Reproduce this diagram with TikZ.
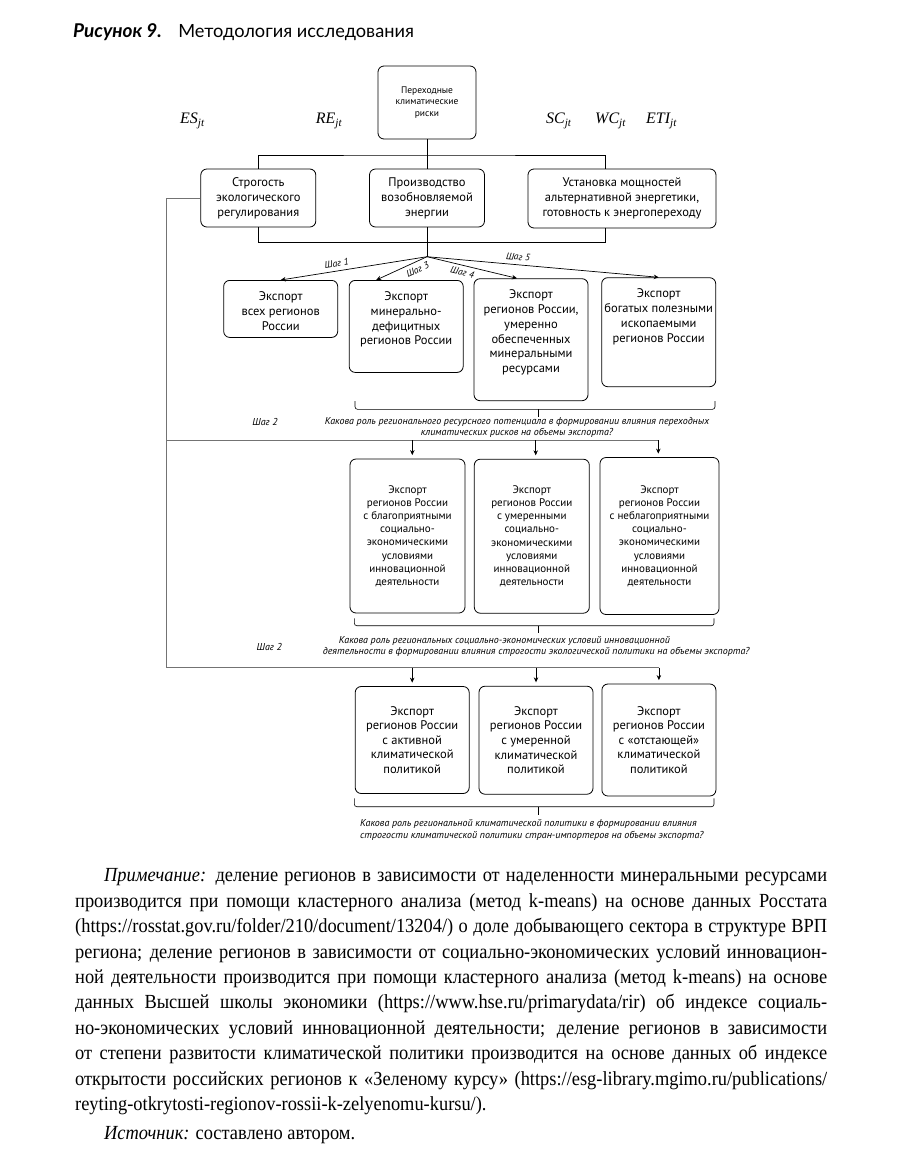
\documentclass[tikz,border=0pt]{standalone}
\usepackage{fontspec}
\setmainfont{Liberation Serif}
\setsansfont{PT Sans}
\newfontfamily\titlefont{Lato}
\newfontfamily\notefont{Liberation Serif}[FakeStretch=0.92]
\usetikzlibrary{positioning,arrows.meta}

% text held at the top of a tall box
\newcommand{\topcell}[2]{\parbox[c][#1][t]{114pt}{\centering\vspace*{10pt}\strut#2}}

\begin{document}
\begin{tikzpicture}[
    x=1pt, y=-1pt,
    box/.style={draw, rounded corners=6pt, line width=0.8pt, align=center, inner sep=0pt, font=\sffamily\fontsize{12.5}{15}\selectfont},
    line/.style={line width=0.7pt},
    rail/.style={draw=black!55, line width=0.9pt},
    arrow/.style={->, >={Stealth[length=5pt,width=4.5pt]}, line width=0.7pt},
    steplbl/.style={font=\sffamily\itshape\fontsize{9.5}{11}\selectfont, inner sep=0pt},
    question/.style={font=\sffamily\itshape\fontsize{10}{11.5}\selectfont, inner sep=0pt},
    var/.style={font=\itshape\fontsize{16}{18}\selectfont, inner sep=0pt, anchor=base west},
    brace/.style={line width=0.6pt, rounded corners=2.5pt}
]
\useasboundingbox (0,0) rectangle (921,1157);

% Title
\node[anchor=base west, inner sep=0pt, font=\titlefont\bfseries\itshape\fontsize{19}{22}\selectfont] (fignum) at (73,37) {Рисунок 9.};
\node[base right=16pt of fignum, inner sep=0pt, font=\titlefont\fontsize{18.2}{22}\selectfont] (figtitle) {Методология исследования};

% Variables
\node[var] (es) at (180,123.5) {ES\textsubscript{jt}};
\node[var] (re) at (315.7,123.5) {RE\textsubscript{jt}};
\node[var] (sc) at (546,123.5) {SC\textsubscript{jt}};
\node[var] (wc) at (595,123.5) {WC\textsubscript{jt}};
\node[var] (eti) at (646,123.5) {ETI\textsubscript{jt}};

% Risks and channels
\node[box, minimum width=98pt, minimum height=73pt, font=\sffamily\fontsize{9.5}{11.5}\selectfont] (trisk) at (427,102.5) {Переходные\\климатические\\риски};
\node[box, minimum width=115pt, minimum height=58pt] (strict) at (258.3,198) {Строгость\\экологического\\регулирования};
\node[box, minimum width=115pt, minimum height=58pt] (renew) at (427,198) {Производство\\возобновляемой\\энергии};
\node[box, minimum width=188pt, minimum height=59pt] (install) at (622,198.5) {Установка мощностей\\альтернативной энергетики,\\готовность к энергопереходу};

% Mineral resource groups
\node[box, anchor=north, font=\sffamily\fontsize{12.5}{14.7}\selectfont] (mall) at (280.7,280) {\topcell{57pt}{Экспорт\\всех регионов\\России}};
\node[box, anchor=north, font=\sffamily\fontsize{12.5}{14.7}\selectfont] (mdef) at (406.2,280) {\topcell{92pt}{Экспорт\\минерально-\\дефицитных\\регионов России}};
\node[box, anchor=north, font=\sffamily\fontsize{12.5}{14.7}\selectfont] (mmod) at (531,278.3) {\topcell{122pt}{Экспорт\\регионов России,\\умеренно\\обеспеченных\\минеральными\\ресурсами}};
\node[box, anchor=north, font=\sffamily\fontsize{12.5}{14.7}\selectfont] (mrich) at (658.7,277.3) {\topcell{109pt}{Экспорт\\богатых полезными\\ископаемыми\\регионов России}};

% Socio-economic groups
\node[box, minimum width=115pt, minimum height=154pt, font=\sffamily\fontsize{11}{13.2}\selectfont] (sfav) at (407.5,536) {Экспорт\\регионов России\\с благоприятными\\социально-\\экономическими\\условиями\\инновационной\\деятельности};
\node[box, minimum width=115pt, minimum height=154pt, font=\sffamily\fontsize{11}{13.2}\selectfont] (smod) at (531.8,536.2) {Экспорт\\регионов России\\с умеренными\\социально-\\экономическими\\условиями\\инновационной\\деятельности};
\node[box, minimum width=119pt, minimum height=157pt, font=\sffamily\fontsize{11}{13.2}\selectfont] (sunf) at (659.5,536) {Экспорт\\регионов России\\с неблагоприятными\\социально-\\экономическими\\условиями\\инновационной\\деятельности};

% Climate policy groups
\node[box, minimum width=114pt, minimum height=107pt, font=\sffamily\fontsize{12.5}{14.6}\selectfont] (cact) at (412.2,740) {Экспорт\\регионов России\\с активной\\климатической\\политикой};
\node[box, minimum width=114pt, minimum height=108pt, font=\sffamily\fontsize{12.5}{14.6}\selectfont] (cmod) at (536,740.2) {Экспорт\\регионов России\\с умеренной\\климатической\\политикой};
\node[box, minimum width=114pt, minimum height=112pt, font=\sffamily\fontsize{12.5}{14.6}\selectfont] (clag) at (658.9,740) {Экспорт\\регионов России\\с «отстающей»\\климатической\\политикой};

% Questions
\node[steplbl, font=\sffamily\itshape\fontsize{10}{12}\selectfont] (s2a) at (265,421.7) {Шаг 2};
\node[question, align=center] (q1) at (517,427.5) {Какова роль регионального ресурсного потенциала в формировании влияния переходных\\климатических рисков на объемы экспорта?};
\node[steplbl, font=\sffamily\itshape\fontsize{10}{12}\selectfont] (s2b) at (269.3,647.3) {Шаг 2};
\node[question, align=left, anchor=west] (q2) at (322.7,646.3) {\hspace*{16pt}Какова роль региональных социально-экономических условий инновационной\\деятельности в формировании влияния строгости экологической политики на объемы экспорта?};
\node[question, align=left, anchor=west] (q3) at (360,830) {Какова роль региональной климатической политики в формировании влияния\\строгости климатической политики стран-импортеров на объемы экспорта?};

% Connectors
\coordinate (fork) at (427,155);
\draw[line] (trisk) -- (fork);
\draw[line] (strict.north) |- (fork) -| ([xshift=-17pt]install.north);
\draw[line] (fork) -- (renew);
\draw[line] (strict.south) -- ++(0,15) -| ([xshift=-17pt]install.south);

\coordinate (hub) at (427,256.7);
\draw[line] (renew) -- (hub);
\draw[arrow] (hub) -- node[steplbl, pos=0.61, sloped, above=4pt] {Шаг 1} (mall.north);
\draw[arrow] (hub) -- node[steplbl, pos=0.25, sloped, below=4pt] {Шаг 3} ([xshift=-30pt]mdef.north);
\draw[arrow] (hub) -- node[steplbl, pos=0.41, sloped, below=3pt] {Шаг 4} ([xshift=-14pt]mmod.north);
\draw[arrow] (hub) -- node[steplbl, pos=0.39, sloped, above=4pt] {Шаг 5} (mrich.north);

% Rail from regulation
\coordinate (railA) at (166.7,440);
\coordinate (railB) at (166.7,667.7);
\draw[rail] (strict.west) -| (railB) -- (railB -| clag.north);
\draw[rail] (railA) -- ([xshift=-1.2pt]railA -| sunf.north);
\foreach \n/\dx in {sfav/4.8, smod/3.9, sunf/-1.2}
    \draw[arrow, shorten >=3.5pt] ([xshift=\dx pt]railA -| \n.north) -- ([xshift=\dx pt]\n.north);
\foreach \n in {cact,cmod,clag}
    \draw[arrow, shorten >=3.5pt] (railB -| \n.north) -- (\n.north);

% Braces
\draw[brace] (355,401) |- (715,409.3) -- (715,401);
\draw[brace] (538.3,409.3) -- (538.3,416.7);
\draw[brace] (354.3,618.3) |- (714,625.7) -- (714,618.3);
\draw[brace] (538.3,625.7) -- (538.3,633.3);
\draw[brace] (354.3,798.3) |- (714,806.7) -- (714,798.3);
\draw[brace] (538.3,806.7) -- (538.3,815);

% Note
\node[anchor=north west, inner sep=0pt, text width=752pt, align=justify, font=\notefont\fontsize{20}{25.4}\selectfont] (note) at (75,864) {\strut\hspace*{29pt}\textit{Примечание:} деление регионов в зависимости от наделенности минеральными ресурсами\linebreak
производится при помощи кластерного анализа (метод k-means) на основе данных Росстата\linebreak
(https://rosstat.gov.ru/folder/210/document/13204/) о доле добывающего сектора в структуре ВРП\linebreak
региона; деление регионов в зависимости от социально-экономических условий инновацион-\linebreak
ной деятельности производится при помощи кластерного анализа (метод k-means) на основе\linebreak
данных Высшей школы экономики (https://www.hse.ru/primarydata/rir) об индексе социаль-\linebreak
но-экономических условий инновационной деятельности; деление регионов в зависимости\linebreak
от степени развитости климатической политики производится на основе данных об индексе\linebreak
открытости российских регионов к «Зеленому курсу» (https://esg-library.mgimo.ru/publications/\linebreak
reyting-otkrytosti-regionov-rossii-k-zelyenomu-kursu/).\par
\vspace{3.6pt}\hspace*{29pt}\textit{Источник:} составлено автором.};
\end{tikzpicture}
\end{document}
